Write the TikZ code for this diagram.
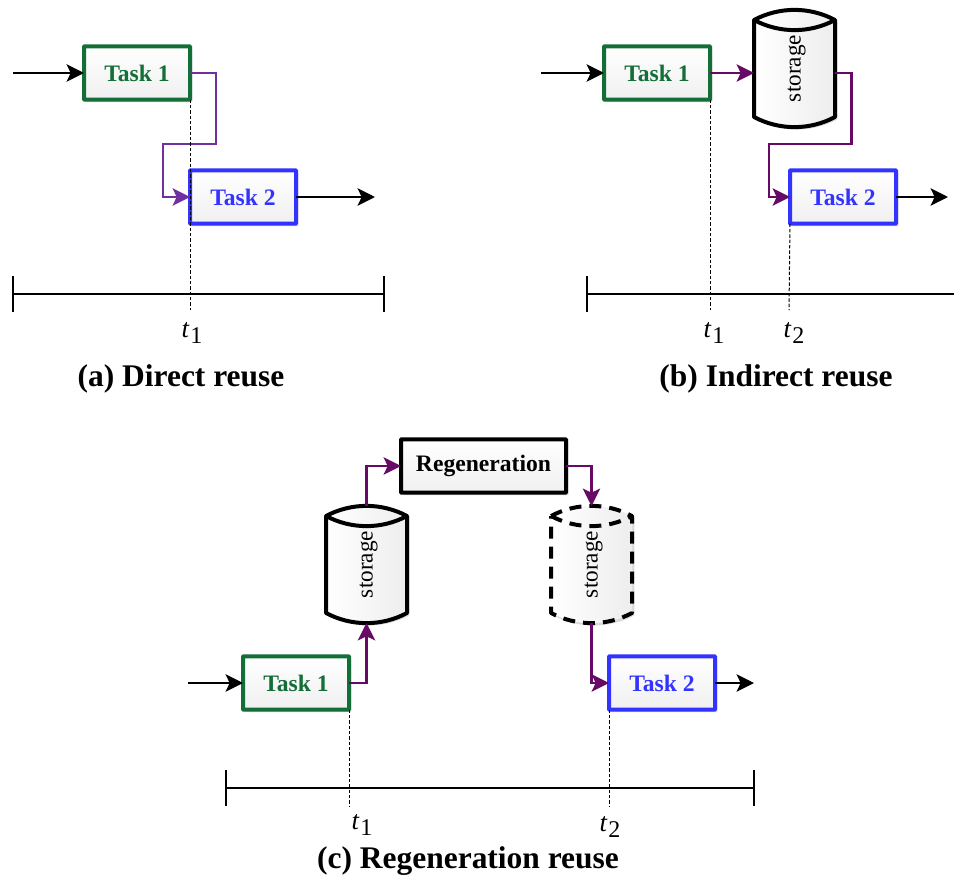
\documentclass[tikz,border=0pt]{standalone}
\usepackage{fontspec}
\setmainfont{Liberation Serif}
\usetikzlibrary{arrows.meta,shadows}
\definecolor{taskgreen}{RGB}{20,110,55}
\definecolor{taskblue}{RGB}{51,51,255}
\definecolor{reuseviolet}{RGB}{112,48,160}
\definecolor{reuseplum}{RGB}{102,10,102}
\tikzset{
    every node/.style={
        text=black,
        inner sep=0pt,
        outer sep=0pt
    }
}
\tikzstyle{softshadow}=[drop shadow={shadow xshift=1.8pt,shadow yshift=-1.8pt,opacity=.15,fill=black}]
\tikzstyle{taskbox}=[draw,line width=3pt,rounded corners=0.5pt,minimum width=79.5pt,minimum height=40pt,top color=white,bottom color=black!6,softshadow,font=\fontsize{17.7pt}{20pt}\selectfont\bfseries]
\tikzstyle{taskone}=[taskbox,draw=taskgreen,text=taskgreen]
\tikzstyle{tasktwo}=[taskbox,draw=taskblue,text=taskblue]
\tikzstyle{flow}=[line width=2pt,-{Stealth[length=13pt,width=13pt,inset=3pt]}]
\tikzstyle{reusea}=[flow,color=reuseviolet]
\tikzstyle{reuseb}=[flow,color=reuseplum]
\tikzstyle{timeline}=[line width=1.5pt]
\tikzstyle{guide}=[line width=0.75pt,dash pattern=on 2.6pt off 1.4pt]
\tikzstyle{tlabel}=[font=\fontsize{20pt}{22pt}\selectfont]
\tikzstyle{caption}=[font=\fontsize{23.6pt}{26pt}\selectfont\bfseries]
\tikzstyle{cansolid}=[draw,line width=3pt,line join=round]
\tikzstyle{candash}=[cansolid,dash pattern=on 9pt off 6pt]

% name, x, y, outline style
\newcommand{\storagecan}[4]{
\begin{scope}[shift={(#2,#3)}]
\path[#4,left color=white,right color=black!7,softshadow] (-40.5,-48.5) .. controls (-15,-62) and (15,-62) .. (40.5,-48.5) -- (40.5,48.5) .. controls (15,62) and (-15,62) .. (-40.5,48.5) -- cycle;
\draw[#4] (-40.5,-48.5) .. controls (-15,-35) and (15,-35) .. (40.5,-48.5);
\node[minimum width=60.75pt,minimum height=87.75pt] (#1) at (0,0) {\fontsize{17.4pt}{20pt}\selectfont\hspace*{3pt}\raisebox{-3.75pt}{\rotatebox{90}{storage}}};
\end{scope}
}
\newcommand{\tname}[2]{\textit{#1}\hspace{0.6pt}\raisebox{-0.45ex}{\fontsize{18pt}{20pt}\selectfont #2}}

\begin{document}
\begin{tikzpicture}[x=0.75pt,y=-0.75pt]
\useasboundingbox (0,0) rectangle (954,875);

% (a)
\node[taskone] (a1) at (137,73) {Task 1};
\node[tasktwo] (a2) at (243,197) {Task 2};
\coordinate (ain) at (13,73);
\coordinate (aout) at (375,197);
\coordinate (al) at (13,294);
\coordinate (ar) at (384,294);
\coordinate (ag) at (190,310);

\draw[flow] (ain) -- (a1.west);
\draw[flow] (a2.east) -- (aout);
\draw[reusea] (a1.east) -- ++(26,0) -- ++(0,71) -- ++(-53,0) |- (a2.west);
\draw[timeline] (al) -- (ar);
\draw[timeline] ([yshift=13.5pt]al) -- ([yshift=-13.5pt]al);
\draw[timeline] ([yshift=13.5pt]ar) -- ([yshift=-13.5pt]ar);
\draw[guide] (a1.south east) -- (ag);
\node[tlabel] (at1) at (192,333) {\tname{t}{1}};
\node[caption] (acap) at (181,379) {(a) Direct reuse};

% (b)
\node[taskone] (b1) at (657,73) {Task 1};
\node[tasktwo] (b2) at (843,197) {Task 2};
\storagecan{bs}{794.5}{68.5}{cansolid}
\coordinate (bin) at (541,73);
\coordinate (bout) at (948,197);
\coordinate (bl) at (587,294);
\coordinate (br) at (954,294);
\coordinate (bg1) at (710,310);
\coordinate (bg2) at (789,310);

\draw[flow] (bin) -- (b1.west);
\draw[flow] (b2.east) -- (bout);
\draw[reuseb] (b1.east) -- (bs.west |- b1.east);
\draw[reuseb] (bs.east |- b1.east) -- ++(16.5,0) -- ++(0,71) -- ++(-82.5,0) |- (b2.west);
\draw[timeline] (bl) -- (br);
\draw[timeline] ([yshift=13.5pt]bl) -- ([yshift=-13.5pt]bl);
\draw[guide] (b1.south east) -- (bg1);
\draw[guide] (b2.south west) -- (bg2);
\node[tlabel] (bt1) at (714,333) {\tname{t}{1}};
\node[tlabel] (bt2) at (794,333) {\tname{t}{2}};
\node[caption] (bcap) at (776,379) {(b) Indirect reuse};

% (c)
\node[taskone] (c1) at (296,683) {Task 1};
\node[tasktwo] (c2) at (662,683) {Task 2};
\node[taskbox,minimum width=123.75pt,draw=black] (cr) at (483.5,466) {Regeneration};
\storagecan{cs}{366.5}{564.5}{cansolid}
\storagecan{ds}{591.5}{564.5}{candash}
\coordinate (cin) at (188,683);
\coordinate (cout) at (754,683);
\coordinate (cl) at (226,788);
\coordinate (crr) at (754,788);
\coordinate (cg1) at (349,806);
\coordinate (cg2) at (609,806);

\draw[flow] (cin) -- (c1.west);
\draw[flow] (c2.east) -- (cout);
\draw[reuseb] (c1.east) -| (cs.south);
\draw[reuseb] (cs.north) |- (cr.west);
\draw[reuseb] (cr.east) -| (ds.north);
\draw[reuseb] (ds.south) |- (c2.west);
\draw[timeline] (cl) -- (crr);
\draw[timeline] ([yshift=13.5pt]cl) -- ([yshift=-13.5pt]cl);
\draw[timeline] ([yshift=13.5pt]crr) -- ([yshift=-13.5pt]crr);
\draw[guide] (c1.south east) -- (cg1);
\draw[guide] (c2.south west) -- (cg2);
\node[tlabel] (ct1) at (362,825) {\tname{t}{1}};
\node[tlabel] (ct2) at (610,827) {\tname{t}{2}};
\node[caption] (ccap) at (468,861) {(c) Regeneration reuse};

\end{tikzpicture}
\end{document}
